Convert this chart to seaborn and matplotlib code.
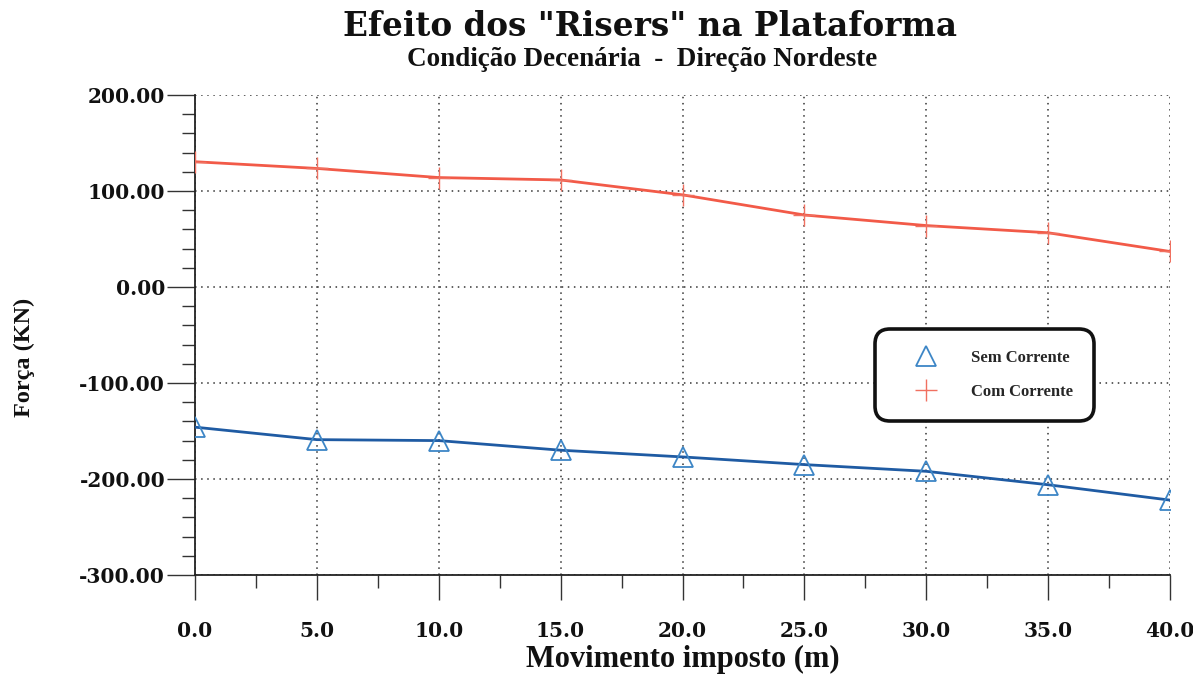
import matplotlib
matplotlib.use("Agg")
import matplotlib.pyplot as plt
from matplotlib.lines import Line2D
from matplotlib.ticker import MultipleLocator, FormatStrFormatter
import numpy as np
import pandas as pd
import seaborn as sns

# Imposed displacement (m)
movimento = [0.0, 5.0, 10.0, 15.0, 20.0, 25.0, 30.0, 35.0, 40.0]
# Riser force on the platform (KN)
sem_corrente = [-146, -159, -160, -170, -177, -185, -192, -206, -222]
com_corrente = [130.5, 123.5, 114, 111.5, 96, 75, 64, 56.5, 37]

series_names = ["Sem Corrente", "Com Corrente"]
x_ticks = [0, 5, 10, 15, 20, 25, 30, 35, 40]
y_ticks = [-300, -200, -100, 0, 100, 200]

df = pd.DataFrame({
    "Movimento": movimento * 2,
    "Forca": sem_corrente + com_corrente,
    "Serie": [series_names[0]] * len(movimento) + [series_names[1]] * len(movimento),
})

sns.set_theme(style="white")
plt.rcParams["font.family"] = ["DejaVu Serif"]
plt.rcParams["font.weight"] = "bold"
plt.rcParams["axes.unicode_minus"] = False

W, H = 1193, 674
fig = plt.figure(figsize=(W / 100, H / 100), dpi=100)
fig.patch.set_facecolor("white")
left, right, top, bottom = 195, 1170, 95, 575
ax = fig.add_axes([left / W, 1 - bottom / H, (right - left) / W, (bottom - top) / H])
ax.set_facecolor("white")

line_colors = {"Sem Corrente": "#1f5ba3", "Com Corrente": "#f25a48"}
marker_colors = {"Sem Corrente": "#3d86c6", "Com Corrente": "#f07060"}

blue = df[df["Serie"] == "Sem Corrente"]
red = df[df["Serie"] == "Com Corrente"]

sns.lineplot(data=red, x="Movimento", y="Forca", ax=ax, color=line_colors["Com Corrente"],
             lw=2.0, marker="+", markersize=16, markeredgewidth=1.0,
             markeredgecolor=marker_colors["Com Corrente"], zorder=4)
sns.lineplot(data=blue, x="Movimento", y="Forca", ax=ax, color=line_colors["Sem Corrente"],
             lw=2.0, marker="^", markersize=14, markerfacecolor="none",
             markeredgewidth=1.3, markeredgecolor=marker_colors["Sem Corrente"], zorder=4)

ax.set_xlim(0, 40)
ax.set_ylim(-300, 200)
ax.set_xticks(x_ticks)
ax.set_yticks(y_ticks)
ax.xaxis.set_minor_locator(MultipleLocator(2.5))
ax.yaxis.set_minor_locator(MultipleLocator(20))
ax.xaxis.set_major_formatter(FormatStrFormatter("%.1f"))
ax.yaxis.set_major_formatter(FormatStrFormatter("%.2f"))

for s in ["top", "right"]:
    ax.spines[s].set_visible(False)
for s in ["left", "bottom"]:
    ax.spines[s].set_color("#222222")
    ax.spines[s].set_linewidth(1.3)

ax.grid(True, which="major", color="#333333", linestyle=(0, (1, 3)), linewidth=1.1)
ax.set_axisbelow(True)

ax.tick_params(axis="y", which="major", direction="out", length=20, width=1.0,
               color="#333333", pad=1.5, labelsize=14.5, left=True)
ax.tick_params(axis="y", which="minor", direction="out", length=9.5, width=1.0,
               color="#333333", left=True)
ax.tick_params(axis="x", which="major", direction="out", length=18, width=1.0,
               color="#333333", pad=15, labelsize=14.5, bottom=True)
ax.tick_params(axis="x", which="minor", direction="out", length=9, width=1.0,
               color="#333333", bottom=True)
for lab in ax.get_xticklabels() + ax.get_yticklabels():
    lab.set_fontweight("bold")
    lab.set_color("#111111")

ax.set_xlabel("")
ax.set_ylabel("")

serif = ["Liberation Serif", "DejaVu Serif"]
fig.text(683 / W, 1 - 659 / H, "Movimento imposto (m)", ha="center", va="center",
         fontsize=22, fontweight="bold", family=serif, color="#111111")
fig.text(24 / W, 1 - 357 / H, "Força (KN)", ha="center", va="center", rotation=90,
         fontsize=17.5, fontweight="bold", family=serif, color="#111111")
fig.text(650 / W, 1 - 26 / H, "Efeito dos \"Risers\" na Plataforma", ha="center",
         va="center", fontsize=23.5, fontweight="bold", family=["DejaVu Serif"],
         color="#111111")
fig.text(642 / W, 1 - 60 / H, "Condição Decenária  -  Direção Nordeste", ha="center",
         va="center", fontsize=19.5, fontweight="bold", family=serif, color="#111111")

handles = [
    Line2D([], [], linestyle="none", marker="^", markersize=14, markerfacecolor="none",
           markeredgewidth=1.3, markeredgecolor=marker_colors["Sem Corrente"]),
    Line2D([], [], linestyle="none", marker="+", markersize=16, markeredgewidth=1.0,
           markeredgecolor=marker_colors["Com Corrente"]),
]
leg = ax.legend(handles, series_names, loc="center",
                bbox_to_anchor=(984.5 / W, 1 - 375 / H), bbox_transform=fig.transFigure,
                prop={"family": serif, "weight": "bold", "size": 12},
                frameon=True, fancybox=True, borderpad=1.3, handlelength=3.5,
                handletextpad=0.95, labelspacing=1.05, borderaxespad=0)
frame = leg.get_frame()
frame.set_edgecolor("#111111")
frame.set_linewidth(2.6)
frame.set_facecolor("white")
frame.set_alpha(1)
frame.set_boxstyle("round,pad=0,rounding_size=0.9")

fig.savefig("out.png", dpi=100, facecolor="white")
